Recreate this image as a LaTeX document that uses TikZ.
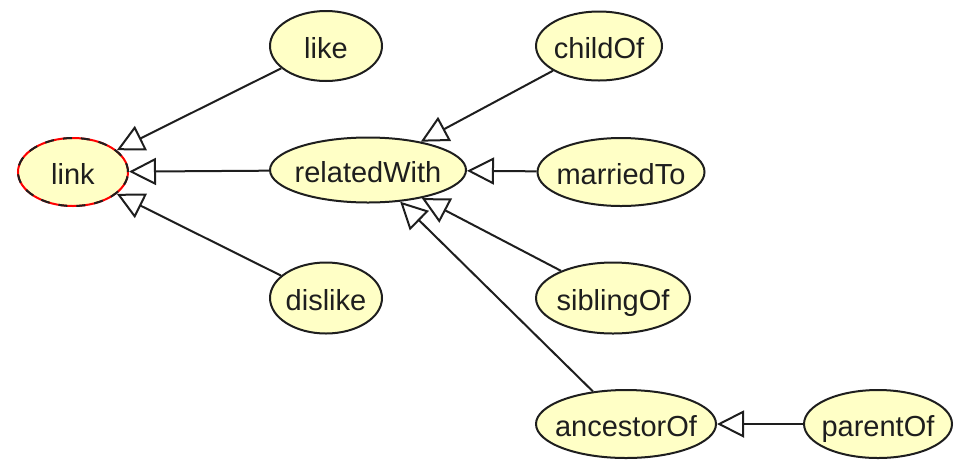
\documentclass[tikz,border=0pt]{standalone}
\usepackage{fontspec}
\setmainfont{Liberation Sans}
\usetikzlibrary{shapes.geometric,arrows.meta}
\definecolor{conceptfill}{RGB}{255,255,198}
\definecolor{conceptline}{RGB}{30,30,30}
\newcommand{\cname}[1]{\makebox[0pt]{#1}}
\tikzset{
  concept/.style={ellipse, draw=conceptline, line width=2pt, fill=conceptfill,
    inner sep=0pt, text height=25pt, text depth=0pt, text=conceptline,
    font=\fontsize{29}{34}\selectfont},
  rootconcept/.style={concept, draw=red,
    postaction={draw=conceptline, dash pattern=on 9pt off 9pt}},
  isa/.style={draw=conceptline, line width=2pt,
    -{Triangle[open,length=27pt,width=27pt]}}
}
\begin{document}
\begin{tikzpicture}[x=1pt,y=-1pt]
\useasboundingbox (0,0) rectangle (957,459);
\node[rootconcept, minimum width=110pt, minimum height=68pt] (link) at (73,172) {\cname{link}};
\node[concept, minimum width=112pt, minimum height=70pt] (like) at (326,46) {\cname{like}};
\node[concept, minimum width=196pt, minimum height=65pt] (relatedWith) at (368,170) {\cname{relatedWith}};
\node[concept, minimum width=112pt, minimum height=71pt] (dislike) at (326,298) {\cname{dislike}};
\node[concept, minimum width=126pt, minimum height=69pt] (childOf) at (599,46) {\cname{childOf}};
\node[concept, minimum width=167pt, minimum height=68pt] (marriedTo) at (621,172) {\cname{marriedTo}};
\node[concept, minimum width=154pt, minimum height=71pt] (siblingOf) at (613,298) {\cname{siblingOf}};
\node[concept, minimum width=180pt, minimum height=68pt] (ancestorOf) at (626,424) {\cname{ancestorOf}};
\node[concept, minimum width=148pt, minimum height=68pt] (parentOf) at (878,424) {\cname{parentOf}};
\draw[isa] (like) -- (link);
\draw[isa] (relatedWith) -- (link);
\draw[isa] (dislike) -- (link);
\draw[isa] (childOf) -- (relatedWith);
\draw[isa] (marriedTo) -- (relatedWith);
\draw[isa] (siblingOf) -- (relatedWith);
\draw[isa] (ancestorOf) -- (relatedWith);
\draw[isa] (parentOf) -- (ancestorOf);
\end{tikzpicture}
\end{document}
